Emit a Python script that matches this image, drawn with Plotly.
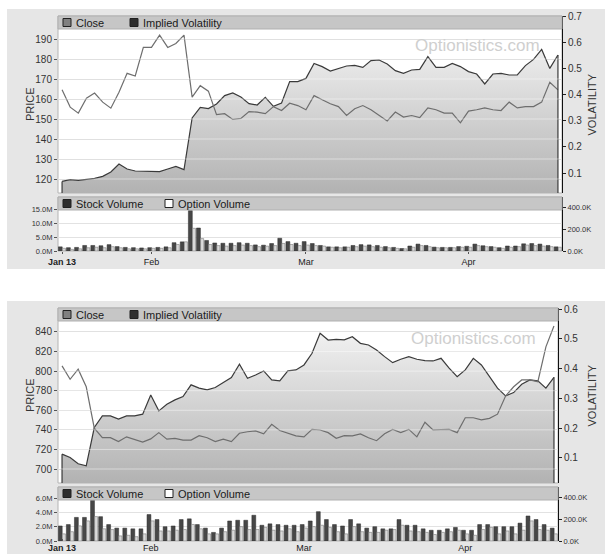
import plotly.graph_objects as go

W, H = 605, 554

dates = [
    "2013-01-16", "2013-01-17", "2013-01-18", "2013-01-22", "2013-01-23", "2013-01-24", "2013-01-25",
    "2013-01-28", "2013-01-29", "2013-01-30", "2013-01-31",
    "2013-02-01", "2013-02-04", "2013-02-05", "2013-02-06", "2013-02-07", "2013-02-08", "2013-02-11",
    "2013-02-12", "2013-02-13", "2013-02-14", "2013-02-15", "2013-02-19", "2013-02-20", "2013-02-21",
    "2013-02-22", "2013-02-25", "2013-02-26", "2013-02-27", "2013-02-28",
    "2013-03-01", "2013-03-04", "2013-03-05", "2013-03-06", "2013-03-07", "2013-03-08", "2013-03-11",
    "2013-03-12", "2013-03-13", "2013-03-14", "2013-03-15", "2013-03-18", "2013-03-19", "2013-03-20",
    "2013-03-21", "2013-03-22", "2013-03-25", "2013-03-26", "2013-03-27", "2013-03-28",
    "2013-04-01", "2013-04-02", "2013-04-03", "2013-04-04", "2013-04-05", "2013-04-08", "2013-04-09",
    "2013-04-10", "2013-04-11", "2013-04-12", "2013-04-15", "2013-04-16",
]

# ---- chart 1 ----
close_1 = [118.8, 119.7, 119.3, 119.7, 120.3, 121.3, 123.5, 127.5, 125.0, 124.0, 124.0,
           124.0, 123.7, 125.0, 126.3, 124.7, 150.5, 155.8, 155.2, 157.5, 161.7, 163.0, 161.0, 157.7, 157.0,
           160.8, 156.3, 158.0, 168.7, 168.7,
           170.3, 177.8, 176.2, 174.0, 175.3, 176.5, 176.8, 175.8, 179.2, 179.5, 177.5, 174.2, 172.8, 174.5,
           174.8, 181.2, 175.8, 175.8, 177.8, 176.2,
           173.7, 172.5, 167.5, 172.5, 172.8, 172.0, 172.0, 176.7, 179.8, 184.8, 175.3, 182.0]
iv_1 = [0.418, 0.352, 0.329, 0.386, 0.406, 0.371, 0.348, 0.409, 0.481, 0.471, 0.580,
        0.580, 0.627, 0.580, 0.595, 0.627, 0.390, 0.434, 0.413, 0.323, 0.327, 0.305, 0.309, 0.335, 0.333,
        0.327, 0.354, 0.339, 0.367, 0.358,
        0.342, 0.396, 0.380, 0.365, 0.354, 0.320, 0.346, 0.358, 0.342, 0.320, 0.299, 0.333, 0.314, 0.320,
        0.312, 0.349, 0.342, 0.329, 0.329, 0.292,
        0.337, 0.342, 0.349, 0.342, 0.339, 0.371, 0.349, 0.354, 0.354, 0.371, 0.447, 0.418]
stock_vol_1 = [1.5, 1.2, 1.3, 2.0, 2.0, 1.9, 2.3, 1.6, 1.3, 1.2, 1.1,
               1.2, 1.3, 1.5, 3.0, 3.3, 14.6, 8.3, 3.8, 2.9, 2.8, 2.8, 3.0, 2.8, 2.2, 2.1, 2.7, 4.6, 3.4, 2.8,
               3.4, 2.7, 2.0, 1.5, 1.5, 1.5, 2.0, 2.3, 2.2, 2.0, 1.6, 1.3, 0.9, 1.8, 2.5, 2.0, 1.4, 1.3, 1.3, 1.6,
               1.7, 2.5, 1.9, 1.6, 1.2, 1.8, 1.8, 2.6, 2.7, 2.5, 2.0, 1.5]
opt_vol_1 = [25, 15, 20, 30, 35, 30, 40, 30, 20, 20, 20,
             25, 25, 30, 60, 85, 210, 115, 60, 50, 45, 50, 55, 50, 40, 45, 50, 70, 60, 50,
             55, 50, 45, 35, 30, 35, 40, 45, 40, 35, 30, 25, 20, 35, 50, 40, 30, 30, 30, 35,
             35, 50, 40, 35, 25, 35, 40, 55, 50, 45, 40, 35]

# ---- chart 2 ----
close_2 = [715.2, 711.8, 705.3, 703.3, 742.4, 754.3, 754.3, 751.0, 754.3, 754.3, 756.0,
           775.7, 759.4, 766.2, 770.6, 774.0, 786.0, 782.6, 780.8, 783.2, 788.3, 793.4, 807.0, 792.7, 796.1,
           800.2, 791.0, 790.0, 800.2, 801.2,
           806.3, 818.2, 838.6, 831.8, 832.5, 832.0, 835.2, 828.4, 826.7, 821.6, 814.8, 808.7, 812.1, 814.8,
           812.1, 810.7, 810.4, 813.1, 803.0, 794.4,
           801.2, 813.1, 806.3, 795.1, 782.6, 774.7, 778.1, 786.6, 791.0, 790.0, 782.6, 793.7]
iv_2 = [0.409, 0.364, 0.398, 0.339, 0.200, 0.168, 0.168, 0.155, 0.171, 0.163, 0.153,
        0.164, 0.185, 0.163, 0.166, 0.160, 0.160, 0.175, 0.168, 0.155, 0.163, 0.155, 0.183, 0.188, 0.191,
        0.181, 0.213, 0.192, 0.183, 0.174,
        0.171, 0.196, 0.194, 0.185, 0.166, 0.175, 0.174, 0.181, 0.168, 0.158, 0.181, 0.196, 0.185, 0.196,
        0.171, 0.220, 0.194, 0.194, 0.196, 0.185,
        0.235, 0.235, 0.228, 0.233, 0.247, 0.308, 0.339, 0.362, 0.362, 0.356, 0.473, 0.543]
stock_vol_2 = [2.1, 2.3, 3.3, 3.3, 5.7, 3.4, 2.3, 1.8, 1.8, 1.7, 1.7,
               3.7, 3.0, 2.0, 2.1, 3.0, 3.1, 2.3, 1.8, 1.2, 1.8, 2.8, 2.9, 2.9, 3.6, 2.2, 2.4, 2.3, 2.2, 2.2,
               2.3, 2.8, 4.1, 3.0, 2.3, 2.1, 3.0, 2.4, 1.8, 2.0, 1.7, 1.7, 3.0, 2.2, 2.2, 1.7, 1.5, 1.5, 1.7, 1.9,
               1.5, 1.5, 2.3, 2.3, 2.0, 2.0, 2.0, 2.5, 3.5, 3.0, 2.3, 1.8]
opt_vol_2 = [66, 86, 140, 186, 226, 113, 106, 47, 53, 40, 66,
             186, 93, 93, 100, 106, 153, 113, 66, 66, 86, 100, 133, 106, 106, 126, 100, 93, 113, 86,
             120, 133, 146, 126, 86, 66, 133, 86, 80, 80, 100, 106, 146, 93, 86, 80, 60, 80, 86, 100,
             66, 53, 106, 126, 66, 93, 66, 100, 186, 106, 100, 66]

price_ticks_1 = [120, 130, 140, 150, 160, 170, 180, 190]
vol_ticks_1 = [0.1, 0.2, 0.3, 0.4, 0.5, 0.6, 0.7]
price_ticks_2 = [700, 720, 740, 760, 780, 800, 820, 840]
vol_ticks_2 = [0.1, 0.2, 0.3, 0.4, 0.5, 0.6]
svol_ticks_1 = [0, 5, 10, 15]
svol_ticks_2 = [0, 2, 4, 6]
ovol_ticks = [0, 200, 400]
month_ticks = ["2013-01-16", "2013-02-01", "2013-03-01", "2013-04-01"]
month_labels = ["<b>Jan 13</b>", "Feb", "Mar", "Apr"]

FONT = "Liberation Sans, Arial, sans-serif"


def fx(px):
    return px / W


def fy(py):
    return 1 - py / H


def nm(prefix, i):
    return prefix if i == 1 else f"{prefix}{i}"


charts = [
    dict(close=close_1, iv=iv_1, sv=stock_vol_1, ov=opt_vol_1, x0=58, x1=562, top=9, bottom=269,
         p_top=16, p_bot=193, v_top=197, v_bot=251, prange=[113, 201.5], vrange=[0.024, 0.7],
         pticks=price_ticks_1, vticks=vol_ticks_1, svrange=[0, 19.5], svticks=svol_ticks_1,
         xticks="outside"),
    dict(close=close_2, iv=iv_2, sv=stock_vol_2, ov=opt_vol_2, x0=58, x1=558, top=301, bottom=560,
         p_top=308, p_bot=483, v_top=487, v_bot=541, prange=[685.7, 864.5], vrange=[0.016, 0.6034],
         pticks=price_ticks_2, vticks=vol_ticks_2, svrange=[0, 7.55], svticks=svol_ticks_2,
         xticks="inside"),
]

fig = go.Figure()
shapes = []
annotations = []
layout = {}

for k, c in enumerate(charts):
    xa_p, xa_v = 2 * k + 1, 2 * k + 2
    ya = [4 * k + 1, 4 * k + 2, 4 * k + 3, 4 * k + 4]

    # background panels
    shapes.append(dict(type="rect", xref="paper", yref="paper", x0=fx(7), x1=1.01,
                       y0=fy(c["bottom"]), y1=fy(c["top"]), fillcolor="#e6e6e6",
                       line=dict(width=0), layer="below"))
    for (t, b) in [(c["p_top"], c["p_bot"]), (c["v_top"], c["v_bot"])]:
        shapes.append(dict(type="rect", xref="paper", yref="paper", x0=fx(c["x0"]), x1=fx(c["x1"]),
                           y0=fy(b), y1=fy(t), fillcolor="white",
                           line=dict(color="#b4b4b4", width=1), layer="below"))
    # legend bars
    for t in [c["p_top"], c["v_top"]]:
        shapes.append(dict(type="rect", xref="paper", yref="paper", x0=fx(c["x0"]), x1=fx(c["x1"]),
                           y0=fy(t + 13), y1=fy(t), fillcolor="#c6c6c6",
                           line=dict(color="#b0b0b0", width=1), layer="above"))
    legend_items = [
        (c["p_top"], 63, "#808080", "Close"),
        (c["p_top"], 130, "#2e2e2e", "Implied Volatility"),
        (c["v_top"], 63, "#2e2e2e", "Stock Volume"),
        (c["v_top"], 165, "#ffffff", "Option Volume"),
    ]
    for (t, lx, col, txt) in legend_items:
        shapes.append(dict(type="rect", xref="paper", yref="paper", x0=fx(lx), x1=fx(lx + 8),
                           y0=fy(t + 10.5), y1=fy(t + 2.5), fillcolor=col,
                           line=dict(color="#202020", width=1), layer="above"))
        annotations.append(dict(xref="paper", yref="paper", x=fx(lx + 11), y=fy(t + 6.5), text=txt,
                                showarrow=False, xanchor="left", yanchor="middle",
                                font=dict(family=FONT, size=11, color="#1a1a1a")))
    # watermark
    annotations.append(dict(xref="paper", yref="paper", x=fx(c["x1"] - 20), y=fy(c["p_top"] + 30),
                            text="Optionistics.com", showarrow=False, xanchor="right", yanchor="middle",
                            font=dict(family=FONT, size=17, color="#cfcfcf")))
    # axis titles
    mid = (c["p_top"] + c["p_bot"]) / 2
    annotations.append(dict(xref="paper", yref="paper", x=fx(29.5), y=fy(mid), text="PRICE",
                            showarrow=False, textangle=-90, xanchor="center", yanchor="middle",
                            font=dict(family=FONT, size=11, color="#333")))
    annotations.append(dict(xref="paper", yref="paper", x=fx(591), y=fy(mid), text="VOLATILITY",
                            showarrow=False, textangle=-90, xanchor="center", yanchor="middle",
                            font=dict(family=FONT, size=11, color="#333")))

    # traces
    fig.add_trace(go.Scatter(
        x=dates, y=c["close"], xaxis=nm("x", xa_p), yaxis=nm("y", ya[0]), mode="lines",
        line=dict(color="#3a3a3a", width=1.2), fill="tozeroy",
        fillgradient=dict(type="vertical", colorscale=[[0, "#b2b2b2"], [1, "#fbfbfb"]],
                          start=c["prange"][0], stop=c["prange"][1]),
        showlegend=False, hoverinfo="skip"))
    fig.add_trace(go.Scatter(
        x=dates, y=c["iv"], xaxis=nm("x", xa_p), yaxis=nm("y", ya[1]), mode="lines",
        line=dict(color="#6e6e6e", width=1.2), showlegend=False, hoverinfo="skip"))
    fig.add_trace(go.Bar(
        x=dates, y=c["sv"], xaxis=nm("x", xa_v), yaxis=nm("y", ya[2]),
        marker=dict(color="#474747", line=dict(color="#2a2a2a", width=0.5)),
        width=0.48, offset=-0.46, showlegend=False, hoverinfo="skip"))
    fig.add_trace(go.Bar(
        x=dates, y=c["ov"], xaxis=nm("x", xa_v), yaxis=nm("y", ya[3]),
        marker=dict(color="#dadada", line=dict(color="#7c7c7c", width=0.6)),
        width=0.38, offset=0.04, showlegend=False, hoverinfo="skip"))

    # fill edges
    for i in [0, len(dates) - 1]:
        shapes.append(dict(type="line", xref=nm("x", xa_p), yref=nm("y", ya[0]), x0=i, x1=i,
                           y0=c["prange"][0], y1=c["close"][i], line=dict(color="#3a3a3a", width=1.2),
                           layer="above"))
    # light gridlines across the fill
    for v in c["pticks"]:
        shapes.append(dict(type="line", xref=nm("x", xa_p) + " domain", yref=nm("y", ya[0]), x0=0, x1=1,
                           y0=v, y1=v, line=dict(color="rgba(255,255,255,0.45)", width=1), layer="above"))

    dom_x = [fx(c["x0"]), fx(c["x1"])]
    xcommon = dict(domain=dom_x, type="category", categoryorder="array", categoryarray=dates,
                   range=[-0.5, len(dates) - 0.5], showgrid=False, zeroline=False, fixedrange=True,
                   automargin=False)
    layout[nm("xaxis", xa_p)] = dict(
        xcommon, anchor=nm("y", ya[0]), showticklabels=False, ticks="", showline=False)
    layout[nm("xaxis", xa_v)] = dict(
        xcommon, anchor=nm("y", ya[2]), tickvals=month_ticks, ticktext=month_labels,
        ticks=c["xticks"], ticklen=2, tickcolor="#555", showline=False,
        tickfont=dict(family=FONT, size=9, color="#222"))

    tickfont = dict(family=FONT, size=10, color="#333")
    layout[nm("yaxis", ya[0])] = dict(
        domain=[fy(c["p_bot"]), fy(c["p_top"])], anchor=nm("x", xa_p), range=c["prange"],
        tickvals=c["pticks"], ticks="outside", ticklen=3, tickcolor="#555", tickfont=tickfont,
        showgrid=True, gridcolor="#d8d8d8", gridwidth=1, zeroline=False, showline=False,
        automargin=False)
    layout[nm("yaxis", ya[1])] = dict(
        overlaying=nm("y", ya[0]), anchor=nm("x", xa_p), side="right", range=c["vrange"],
        tickvals=c["vticks"], tickformat=".1f", ticks="outside", ticklen=3, tickcolor="#222",
        tickfont=tickfont, showgrid=False, zeroline=False, showline=True, linecolor="#111", linewidth=1,
        automargin=False)
    layout[nm("yaxis", ya[2])] = dict(
        domain=[fy(c["v_bot"]), fy(c["v_top"])], anchor=nm("x", xa_v), range=c["svrange"],
        tickvals=c["svticks"], ticktext=[f"{v:.1f}M" for v in c["svticks"]],
        ticks="outside", ticklen=3, tickcolor="#555", tickfont=dict(family=FONT, size=7.5, color="#333"),
        showgrid=True, gridcolor="#e2e2e2", zeroline=False, showline=False, automargin=False)
    layout[nm("yaxis", ya[3])] = dict(
        overlaying=nm("y", ya[2]), anchor=nm("x", xa_v), side="right", range=[0, 500],
        tickvals=ovol_ticks, ticktext=[f"{v:.1f}K" for v in ovol_ticks],
        ticks="outside", ticklen=3, tickcolor="#222", tickfont=dict(family=FONT, size=7.5, color="#333"),
        showgrid=False, zeroline=False, showline=True, linecolor="#111", linewidth=1, automargin=False)

fig.update_layout(
    width=W, height=H, margin=dict(l=0, r=0, t=0, b=0, autoexpand=False),
    paper_bgcolor="white", plot_bgcolor="rgba(0,0,0,0)",
    shapes=shapes, annotations=annotations, showlegend=False,
    barmode="overlay", font=dict(family=FONT),
    **layout)

fig.write_html("out.html", config={"displayModeBar": False, "staticPlot": True},
               post_script="document.body.style.margin='0';document.body.style.overflow='hidden';")
